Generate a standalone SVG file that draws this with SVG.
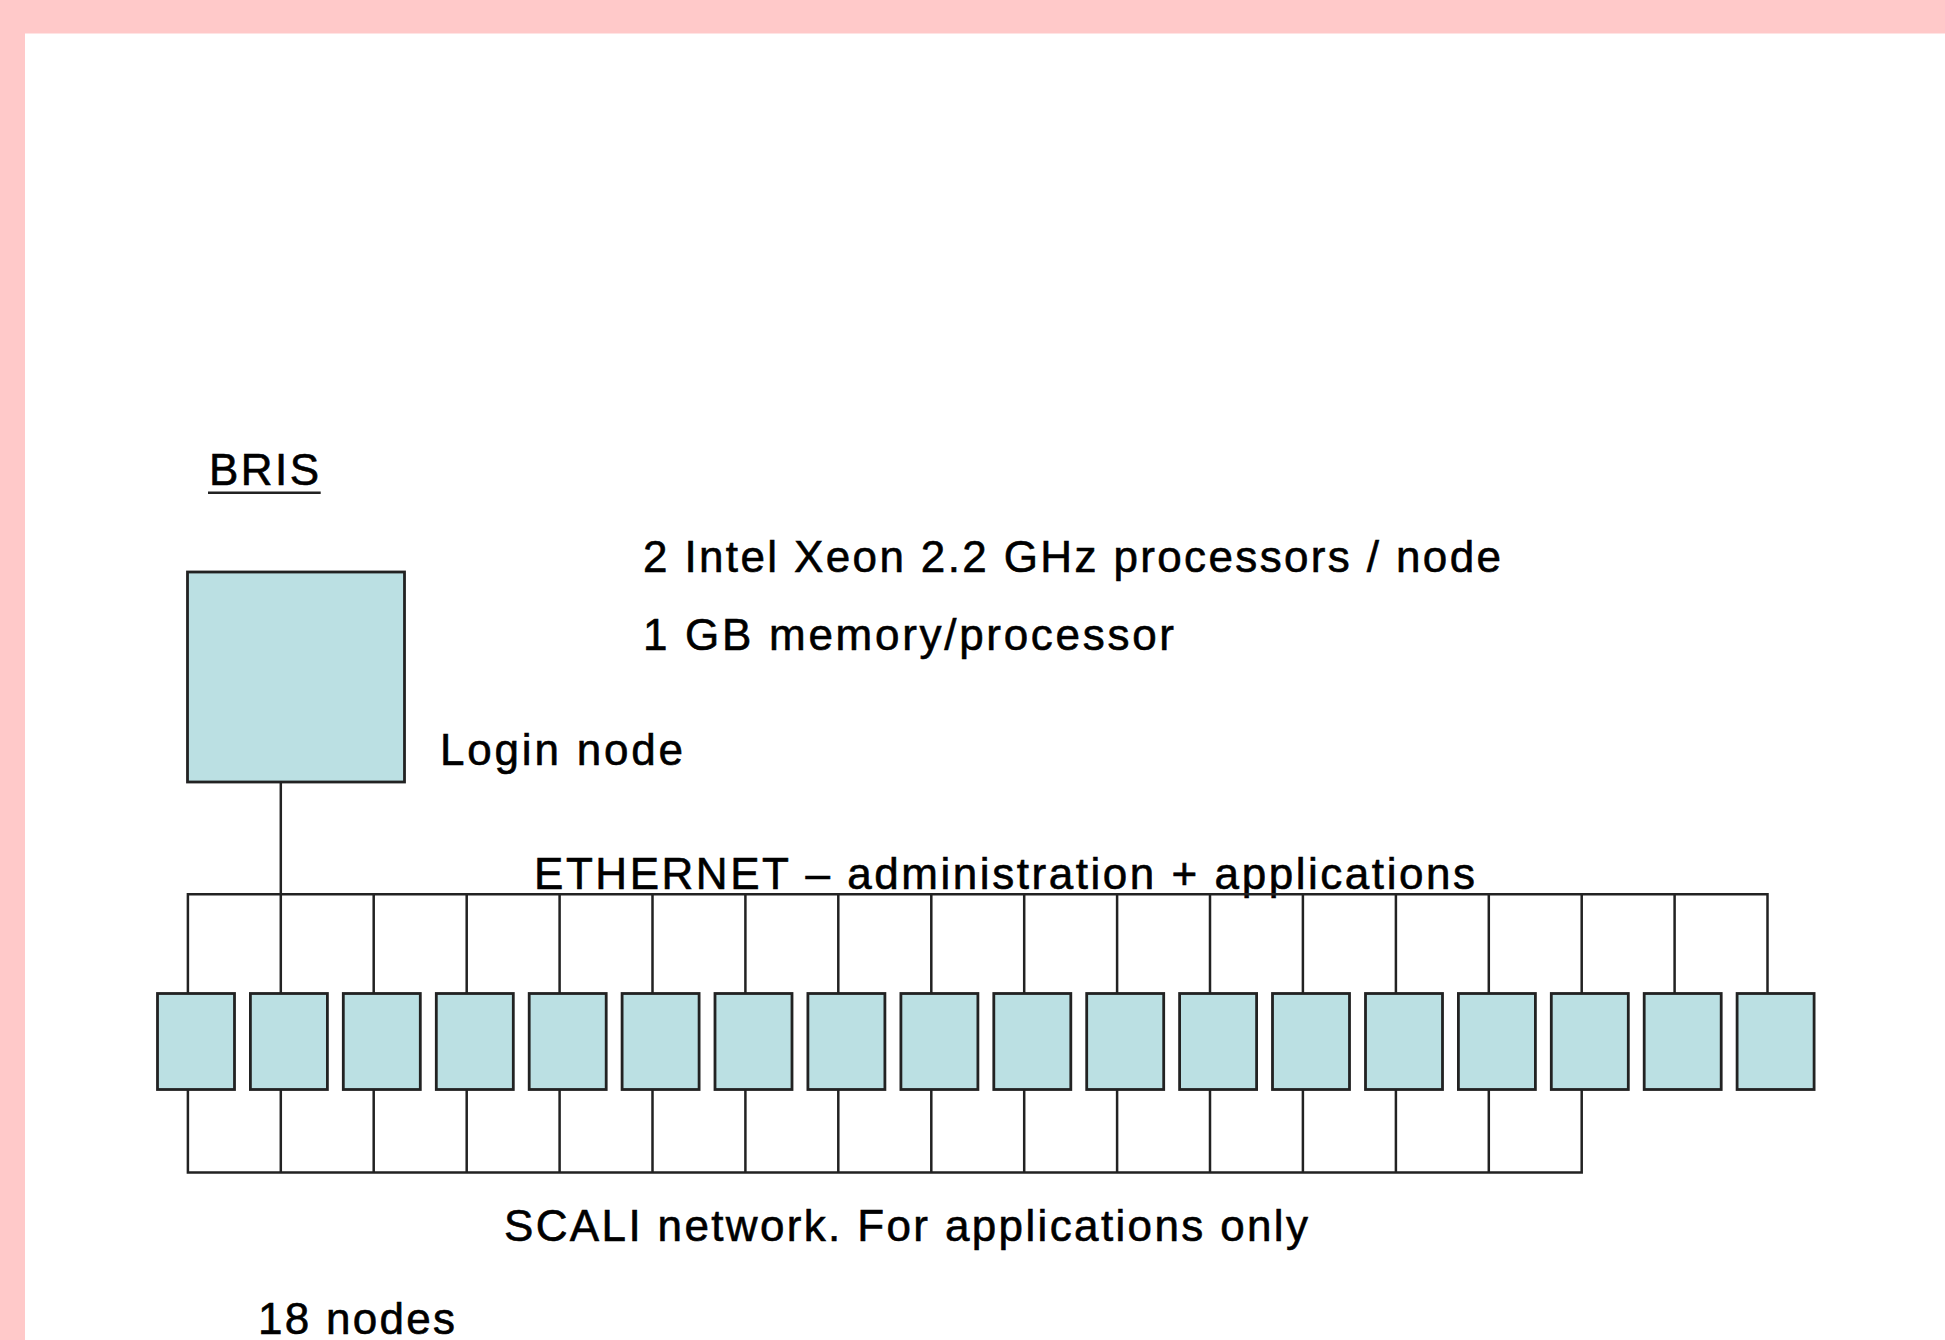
<svg xmlns="http://www.w3.org/2000/svg" width="1945" height="1340" viewBox="0 0 1945 1340">
<style>
.bg{fill:#ffffff}
.pink{fill:#ffc9c9}
.node{fill:#bbe0e3;stroke:#222222;stroke-width:2.8}
.wire{fill:none;stroke:#222222;stroke-width:2.5}
.t{font-family:"Liberation Sans",Arial,sans-serif;font-size:44px;fill:#000000;stroke:#000000;stroke-width:0.6}
.ul{stroke:#222222;stroke-width:2.5}
</style>
<rect class="bg" x="0" y="0" width="1945" height="1340"/>
<rect class="pink" x="0" y="0" width="1945" height="33.5"/>
<rect class="pink" x="0" y="0" width="25" height="1340"/>

<g id="labels">
<text class="t" x="209" y="485" textLength="110" lengthAdjust="spacing">BRIS</text>
<line class="ul" x1="208" y1="492.7" x2="320.7" y2="492.7"/>
<text class="t" x="643" y="571.5" textLength="858" lengthAdjust="spacing">2 Intel Xeon 2.2 GHz processors / node</text>
<text class="t" x="643" y="649.5" textLength="531" lengthAdjust="spacing">1 GB memory/processor</text>
<text class="t" x="440" y="765" textLength="243" lengthAdjust="spacing">Login node</text>
<text class="t" x="534" y="888.5" textLength="941" lengthAdjust="spacing">ETHERNET – administration + applications</text>
<text class="t" x="504" y="1240.7" textLength="804" lengthAdjust="spacing">SCALI network. For applications only</text>
<text class="t" x="258" y="1334.3" textLength="197" lengthAdjust="spacing">18 nodes</text>
</g>

<g id="connectors">
<line class="wire" x1="280.8" y1="782" x2="280.8" y2="894.3"/>
<path class="wire" d="M187.9 993.5 V894.3 H1767.5 V993.5
M280.8 894.3 V993.5 M373.7 894.3 V993.5 M466.7 894.3 V993.5 M559.6 894.3 V993.5
M652.5 894.3 V993.5 M745.4 894.3 V993.5 M838.3 894.3 V993.5 M931.3 894.3 V993.5
M1024.2 894.3 V993.5 M1117.1 894.3 V993.5 M1210 894.3 V993.5 M1302.9 894.3 V993.5
M1395.9 894.3 V993.5 M1488.8 894.3 V993.5 M1581.7 894.3 V993.5 M1674.6 894.3 V993.5"/>
<path class="wire" d="M187.9 1089.5 V1172.5 H1581.7 V1089.5
M280.8 1089.5 V1172.5 M373.7 1089.5 V1172.5 M466.7 1089.5 V1172.5 M559.6 1089.5 V1172.5
M652.5 1089.5 V1172.5 M745.4 1089.5 V1172.5 M838.3 1089.5 V1172.5 M931.3 1089.5 V1172.5
M1024.2 1089.5 V1172.5 M1117.1 1089.5 V1172.5 M1210 1089.5 V1172.5 M1302.9 1089.5 V1172.5
M1395.9 1089.5 V1172.5 M1488.8 1089.5 V1172.5"/>
</g>

<g id="login-node"><rect class="node" x="187.5" y="572" width="217" height="210"/></g>

<g id="node-1"><rect class="node" x="157.5" y="993.5" width="77" height="96"/></g>
<g id="node-2"><rect class="node" x="250.4" y="993.5" width="77" height="96"/></g>
<g id="node-3"><rect class="node" x="343.3" y="993.5" width="77" height="96"/></g>
<g id="node-4"><rect class="node" x="436.3" y="993.5" width="77" height="96"/></g>
<g id="node-5"><rect class="node" x="529.2" y="993.5" width="77" height="96"/></g>
<g id="node-6"><rect class="node" x="622.1" y="993.5" width="77" height="96"/></g>
<g id="node-7"><rect class="node" x="715" y="993.5" width="77" height="96"/></g>
<g id="node-8"><rect class="node" x="807.9" y="993.5" width="77" height="96"/></g>
<g id="node-9"><rect class="node" x="900.9" y="993.5" width="77" height="96"/></g>
<g id="node-10"><rect class="node" x="993.8" y="993.5" width="77" height="96"/></g>
<g id="node-11"><rect class="node" x="1086.7" y="993.5" width="77" height="96"/></g>
<g id="node-12"><rect class="node" x="1179.6" y="993.5" width="77" height="96"/></g>
<g id="node-13"><rect class="node" x="1272.5" y="993.5" width="77" height="96"/></g>
<g id="node-14"><rect class="node" x="1365.5" y="993.5" width="77" height="96"/></g>
<g id="node-15"><rect class="node" x="1458.4" y="993.5" width="77" height="96"/></g>
<g id="node-16"><rect class="node" x="1551.3" y="993.5" width="77" height="96"/></g>
<g id="node-17"><rect class="node" x="1644.2" y="993.5" width="77" height="96"/></g>
<g id="node-18"><rect class="node" x="1737.1" y="993.5" width="77" height="96"/></g>
</svg>
